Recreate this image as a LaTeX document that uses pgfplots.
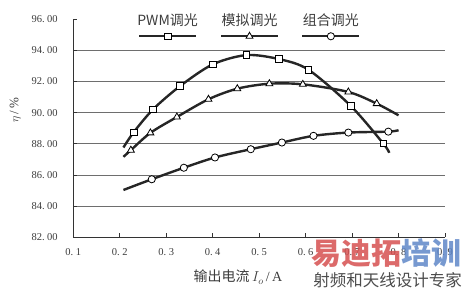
\documentclass[border=0pt]{standalone}
\usepackage{pgfplots}
\pgfplotsset{compat=1.18}
\usepackage{fontspec}
\setmainfont{Liberation Serif}
\newfontfamily\cjk{Noto Sans CJK SC}
\definecolor{wmred}{RGB}{214,80,80}
\definecolor{wmblue}{RGB}{95,135,200}
\definecolor{gridc}{RGB}{110,110,110}
\definecolor{txt}{RGB}{60,60,60}
\pgfplotsset{
  legA/.style={legend image code/.code={%
    \draw[line width=2.4pt,black!85, mark indices={2}, mark=square*, mark size=3.3pt,
      mark options={fill=white, draw=black, line width=0.8pt}] plot coordinates {(0pt,0pt)(28.5pt,0pt)(57pt,0pt)};
    \node[anchor=base, text=txt, inner sep=0pt] at (28.5pt,11pt) {\cjk\fontsize{14}{16}\selectfont PWM调光};}},
  legB/.style={legend image code/.code={%
    \draw[line width=2.4pt,black!85, mark indices={2}, mark=triangle*, mark size=4pt,
      mark options={fill=white, draw=black, line width=0.8pt}] plot coordinates {(0pt,0pt)(28.5pt,0pt)(57pt,0pt)};
    \node[anchor=base, text=txt, inner sep=0pt] at (28.5pt,11pt) {\cjk\fontsize{14}{16}\selectfont 模拟调光};}},
  legC/.style={legend image code/.code={%
    \draw[line width=2.4pt,black!85, mark indices={2}, mark=*, mark size=3.6pt,
      mark options={fill=white, draw=black, line width=0.8pt}] plot coordinates {(0pt,0pt)(28.5pt,0pt)(57pt,0pt)};
    \node[anchor=base, text=txt, inner sep=0pt] at (28.5pt,11pt) {\cjk\fontsize{14}{16}\selectfont 组合调光};}},
}
\begin{document}
\begin{tikzpicture}
\begin{axis}[
  scale only axis, width=372pt, height=218pt,
  xmin=0.1, xmax=0.9, ymin=82, ymax=96,
  axis x line=bottom, axis y line=left,
  axis line style={-, line width=0.8pt, black!80},
  xtick={0.1,0.2,0.3,0.4,0.5,0.6,0.7,0.8,0.9},
  xticklabels={0.\hspace{2.5pt}1,0.\hspace{2.5pt}2,0.\hspace{2.5pt}3,0.\hspace{2.5pt}4,0.\hspace{2.5pt}5,0.\hspace{2.5pt}6,0.\hspace{2.5pt}7,0.\hspace{2.5pt}8,0.\hspace{2.5pt}9},
  ytick={82,84,86,88,90,92,94},
  yticklabels={82.\hspace{2.5pt}00,84.\hspace{2.5pt}00,86.\hspace{2.5pt}00,88.\hspace{2.5pt}00,90.\hspace{2.5pt}00,92.\hspace{2.5pt}00,94.\hspace{2.5pt}00},
  extra y ticks={96}, extra y tick labels={96.\hspace{2.5pt}00},
  extra y tick style={grid=none},
  ymajorgrids, grid style={gridc, line width=0.6pt},
  tick align=inside, major tick length=4pt,
  tick style={black!80, line width=0.6pt},
  ticklabel style={font=\fontsize{10.5}{12}\selectfont, text=txt},
  yticklabel style={xshift=-12pt},
  xticklabel style={yshift=-8pt},
  every axis y label/.style={at={(rel axis cs:0,0.584)}, xshift=-58pt, rotate=90, anchor=center, font=\fontsize{13}{15}\selectfont, text=txt},
  every axis x label/.style={at={(rel axis cs:0.443,0)}, yshift=-40pt, anchor=center, text=txt},
  ylabel={$\eta$\,/\,\%},
  xlabel={{\cjk\fontsize{14}{16}\selectfont 输出电流} {\fontsize{14}{16}\selectfont $I_{o}$\,/\,A}},
  clip=false,
  legend columns=3,
  legend style={at={(rel axis cs:0.478,1)}, anchor=north, yshift=6pt, draw=none, fill=none,
    /tikz/every even column/.style={column sep=18pt}, inner sep=0pt},
]
\addplot[black!85, line width=2.4pt, smooth, mark=square*, mark size=3.3pt,
  mark options={fill=white, draw=black, line width=0.8pt}, mark indices={2,3,4,5,6,7,8,9,10}, legA]
  coordinates {(0.208,87.76)(0.230,88.74)(0.272,90.22)(0.330,91.71)(0.400,93.10)(0.473,93.70)(0.543,93.44)(0.606,92.76)(0.697,90.44)(0.767,88.02)(0.780,87.42)};
\addlegendentry{}
\addplot[black!85, line width=2.4pt, smooth, mark=triangle*, mark size=4pt,
  mark options={fill=white, draw=black, line width=0.8pt}, mark indices={2,3,4,5,6,7,8,9,10}, legB]
  coordinates {(0.208,87.16)(0.224,87.59)(0.266,88.70)(0.323,89.72)(0.391,90.86)(0.453,91.54)(0.522,91.86)(0.594,91.82)(0.692,91.33)(0.753,90.58)(0.800,89.83)};
\addlegendentry{}
\addplot[black!85, line width=2.4pt, smooth, mark=*, mark size=3.6pt,
  mark options={fill=white, draw=black, line width=0.8pt}, mark indices={2,3,4,5,6,7,8,9}, legC]
  coordinates {(0.208,85.03)(0.269,85.72)(0.338,86.46)(0.405,87.12)(0.482,87.65)(0.549,88.08)(0.617,88.51)(0.692,88.72)(0.778,88.78)(0.800,88.87)};
\addlegendentry{}
\coordinate (o) at (rel axis cs:0,0);
\coordinate (t) at (rel axis cs:1,1);
\end{axis}
\path (o) ++(389pt,-1pt) node[anchor=north east, inner sep=0pt, opacity=0.85]
  {\cjk\bfseries\fontsize{30}{30}\selectfont\textcolor{wmred}{易迪拓}\textcolor{wmblue}{培训}};
\path (o) ++(389pt,-35pt) node[anchor=north east, inner sep=0pt, text=black!70]
  {\cjk\fontsize{16.5}{17}\selectfont 射频和天线设计专家};
\pgfresetboundingbox
\path (o) ++(-73.3pt,-52.7pt) coordinate (bl);
\path (t) ++(18pt,19.3pt) coordinate (tr);
\path[use as bounding box] (bl) rectangle (tr);
\end{tikzpicture}
\end{document}
